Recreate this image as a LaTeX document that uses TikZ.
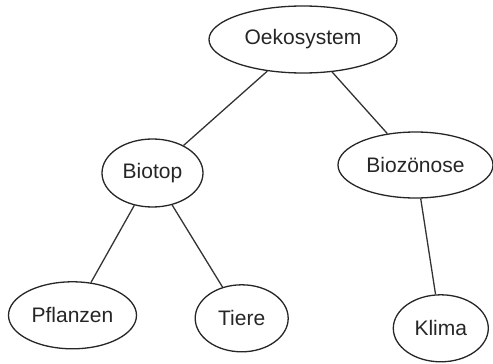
\documentclass[tikz,border=0pt]{standalone}
\usepackage{fontspec}
\setmainfont{Liberation Sans}
\usetikzlibrary{shapes.geometric}
\tikzset{
  ell/.style={ellipse, draw=black!85, line width=1.3pt, inner sep=0pt, fill=white,
    font=\fontsize{21}{25}\selectfont, text=black!85},
  conn/.style={draw=black!80, line width=1.3pt}
}
\begin{document}
\begin{tikzpicture}[x=1pt,y=-1pt]
\useasboundingbox (0,0) rectangle (493,364);
\node[ell, minimum width=188pt, minimum height=67pt] (oeko) at (303,39.5) {Oekosystem};
\node[ell, minimum width=101pt, minimum height=68pt] (biotop) at (152.5,173) {Biotop};
\node[ell, minimum width=155pt, minimum height=66pt] (bioz) at (415.5,165) {Biozönose};
\node[ell, minimum width=128pt, minimum height=67pt] (pfl) at (72.5,315.3) {Pflanzen};
\node[ell, minimum width=93pt, minimum height=67pt] (tiere) at (241.7,318.3) {Tiere};
\node[ell, minimum width=95pt, minimum height=67pt] (klima) at (440.8,328.3) {Klima};
\draw[conn] (oeko) -- (biotop);
\draw[conn] (oeko) -- (bioz);
\draw[conn] (biotop) -- (pfl);
\draw[conn] (biotop) -- (tiere);
\draw[conn] (bioz) -- (klima);
\end{tikzpicture}
\end{document}
